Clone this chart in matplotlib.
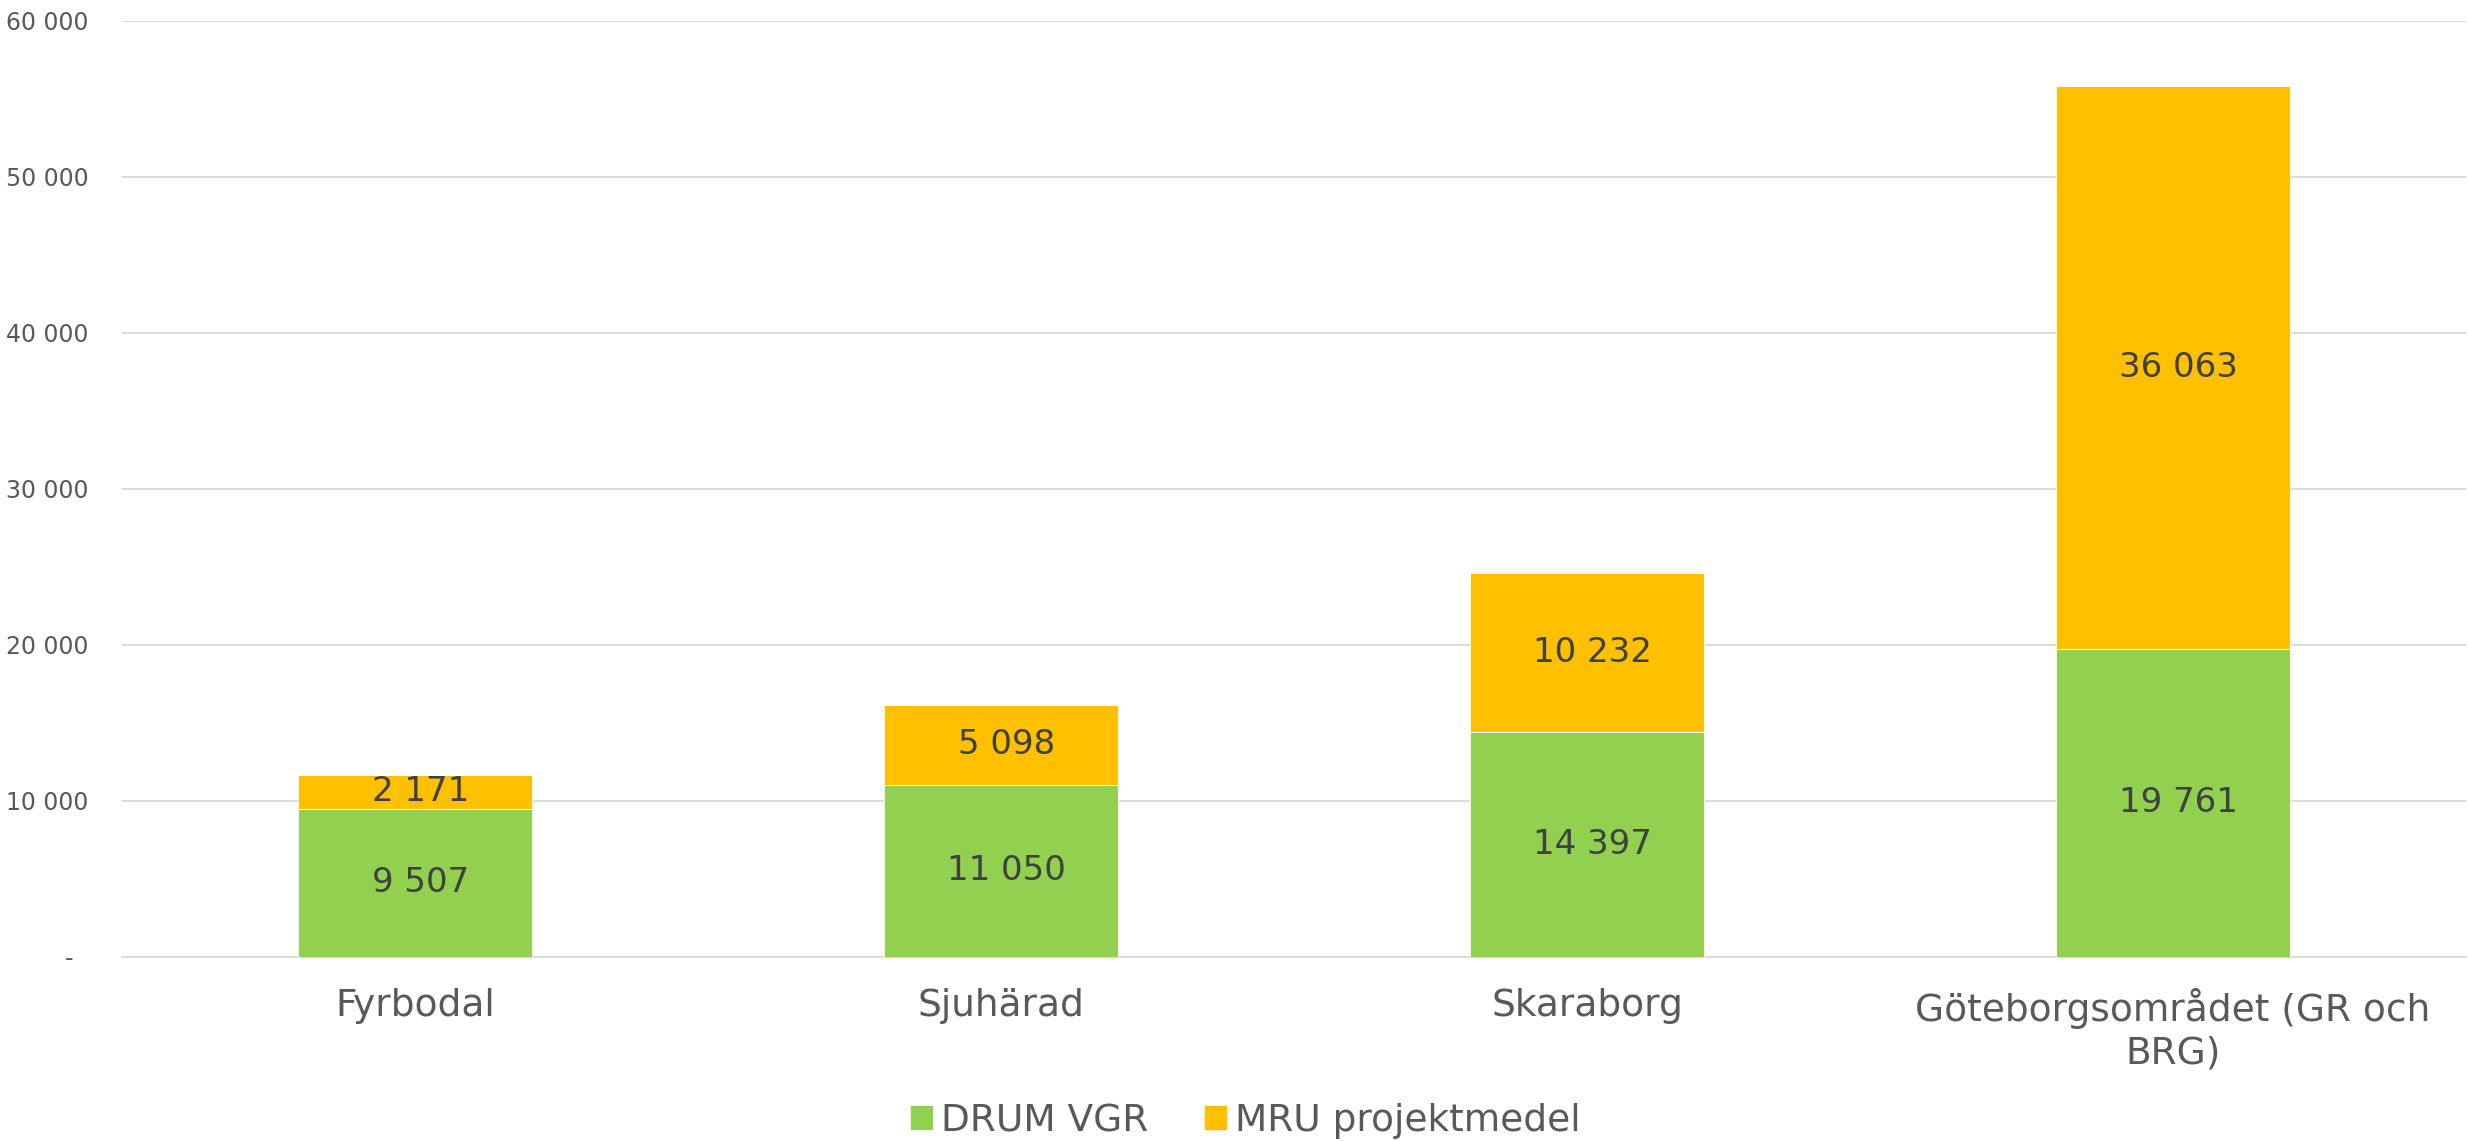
import matplotlib
matplotlib.use("Agg")
import matplotlib.pyplot as plt
from matplotlib.patches import Patch
import numpy as np

# data
regions = ["Fyrbodal", "Sjuhärad", "Skaraborg", "Göteborgsområdet (GR och\nBRG)"]
drum_vgr = [9507, 11050, 14397, 19761]
mru_projektmedel = [2171, 5098, 10232, 36063]
yticks = [0, 10000, 20000, 30000, 40000, 50000, 60000]

green = "#92D050"
orange = "#FFC000"
label_col = "#595959"
value_col = "#404040"


def fmt(v):
    if v == 0:
        return "-  "
    return f"{v:,}".replace(",", " ")


fig = plt.figure(figsize=(24.68, 11.41), dpi=100)
ax = fig.add_axes([122 / 2468, 1 - 957 / 1141, 1 - 124 / 2468, (957 - 20.7) / 1141])

x = np.arange(len(regions))
b1 = ax.bar(x, drum_vgr, width=0.4, color=green, edgecolor="white", linewidth=0.7, zorder=3)
b2 = ax.bar(x, mru_projektmedel, width=0.4, bottom=drum_vgr, color=orange,
            edgecolor="white", linewidth=0.7, zorder=3)

# value labels, centred in each segment
for bars, vals in [(b1, drum_vgr), (b2, mru_projektmedel)]:
    for rect, v in zip(bars, vals):
        ax.annotate(fmt(v), (rect.get_x() + rect.get_width() / 2, rect.get_y() + rect.get_height() / 2),
                    xytext=(4, 0), textcoords="offset points",
                    ha="center", va="center", fontsize=24.5, color=value_col, zorder=4)

ax.set_xlim(-0.5, len(regions) - 0.5)
ax.set_ylim(0, 60000)
ax.set_yticks(yticks)
ax.set_yticklabels([fmt(t) for t in yticks])
ax.set_xticks(x)
ax.set_xticklabels(regions, linespacing=1.25)

ax.tick_params(axis="y", length=0, pad=24, labelsize=17, labelcolor=label_col)
ax.tick_params(axis="x", length=0, pad=22, labelsize=27, labelcolor=label_col)

ax.grid(axis="y", color="#d9d9d9", linewidth=1.3, zorder=0)
for s in ["top", "right", "left"]:
    ax.spines[s].set_visible(False)
ax.spines["bottom"].set_color("#d9d9d9")
ax.spines["bottom"].set_linewidth(1.3)

handles = [Patch(color=green, label="DRUM VGR"), Patch(color=orange, label="MRU projektmedel")]
fig.legend(handles=handles, loc="center", bbox_to_anchor=(1246 / 2468, 1 - 1121 / 1141),
           ncol=2, frameon=False, fontsize=27, labelcolor=label_col,
           handlelength=0.55, handleheight=0.55, handletextpad=0.25, columnspacing=1.5,
           borderpad=0)

fig.savefig("out.png", dpi=100)
